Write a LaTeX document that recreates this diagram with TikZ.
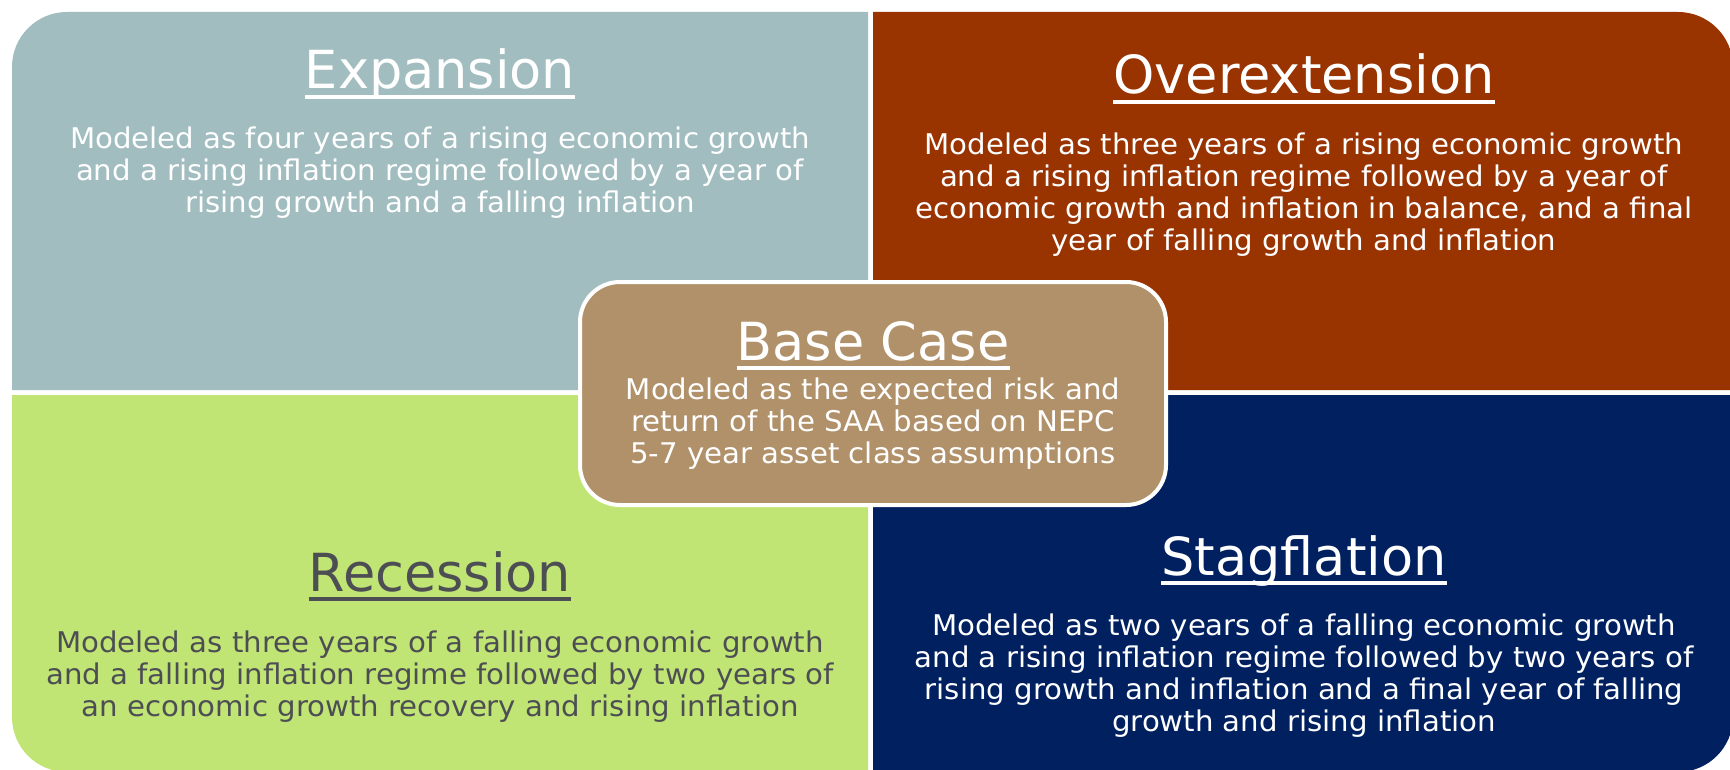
\documentclass[tikz,border=0pt]{standalone}
\usepackage{fontspec}
\setmainfont{DejaVu Sans}
\newfontfamily\blurbfont{DejaVu Sans}[FakeStretch=1.025]

\definecolor{expcol}{RGB}{161,189,192}
\definecolor{overcol}{RGB}{153,51,0}
\definecolor{reccol}{RGB}{193,229,116}
\definecolor{stagcol}{RGB}{0,32,96}
\definecolor{basecol}{RGB}{177,145,105}
\definecolor{darktext}{RGB}{77,78,84}

% underlined heading
\newsavebox\headbox
\newcommand\headline[1]{\sbox\headbox{#1}\rlap{\usebox\headbox}\rule[-10pt]{\wd\headbox}{4pt}}
% centred lines with a fixed baseline distance; the node baseline is the first line
\newcommand\bodylines[1]{\vtop{\baselineskip=32pt\lineskiplimit=-\maxdimen
  \halign{\hfil##\hfil\cr#1\crcr}}}

\tikzset{
  headtext/.style={anchor=base, inner sep=0pt, text=white,
    font=\fontsize{52.5pt}{52pt}\selectfont},
  bodytext/.style={anchor=base, inner sep=0pt, text=white,
    font=\blurbfont\fontsize{28.5pt}{32pt}\selectfont},
}

\begin{document}
\begin{tikzpicture}[x=1pt,y=-1pt]
\useasboundingbox (0,0) rectangle (1730,770);
\fill[white] (0,0) rectangle (1730,770);

% four quadrants, each rounded only at its outer corner
\fill[expcol] (868,390) -- (12,390) [rounded corners=55pt] -- (12,12) [sharp corners] -- (868,12) -- cycle;
\fill[overcol] (873,12) [rounded corners=55pt] -- (1733,12) [sharp corners] -- (1733,390) -- (873,390) -- cycle;
\fill[reccol] (868,395) -- (12,395) [rounded corners=55pt] -- (12,772) [sharp corners] -- (868,772) -- cycle;
\fill[stagcol] (873,395) -- (1733,395) [rounded corners=55pt] -- (1733,772) [sharp corners] -- (873,772) -- cycle;

% central box
\node[draw=white, line width=4pt, fill=basecol, rounded corners=40pt,
  minimum width=586pt, minimum height=223pt, inner sep=0pt] (base) at (873,393.5) {};

% Expansion
\node[headtext] (exph) at (440,89) {\headline{Expansion}};
\node[bodytext] (expb) at (440,149) {\bodylines{Modeled as four years of a rising economic growth\cr
  and a rising inflation regime followed by a year of\cr
  rising growth and a falling inflation}};

% Overextension
\node[headtext] (overh) at (1304,94) {\headline{Overextension}};
\node[bodytext] (overb) at (1304,155) {\bodylines{Modeled as three years of a rising economic growth\cr
  and a rising inflation regime followed by a year of\cr
  economic growth and inflation in balance, and a final\cr
  year of falling growth and inflation}};

% Base Case
\node[headtext] (baseh) at (873,360) {\headline{Base Case}};
\node[bodytext] (baseb) at (873,399) {\bodylines{Modeled as the expected risk and\cr
  return of the SAA based on NEPC\cr
  5-7 year asset class assumptions}};

% Recession
\node[headtext, text=darktext] (rech) at (440,591) {\headline{Recession}};
\node[bodytext, text=darktext] (recb) at (440,652) {\bodylines{Modeled as three years of a falling economic growth\cr
  and a falling inflation regime followed by two years of\cr
  an economic growth recovery and rising inflation}};

% Stagflation
\node[headtext] (stagh) at (1304,575) {\headline{Stagflation}};
\node[bodytext] (stagb) at (1304,635) {\bodylines{Modeled as two years of a falling economic growth\cr
  and a rising inflation regime followed by two years of\cr
  rising growth and inflation and a final year of falling\cr
  growth and rising inflation}};
\end{tikzpicture}
\end{document}
